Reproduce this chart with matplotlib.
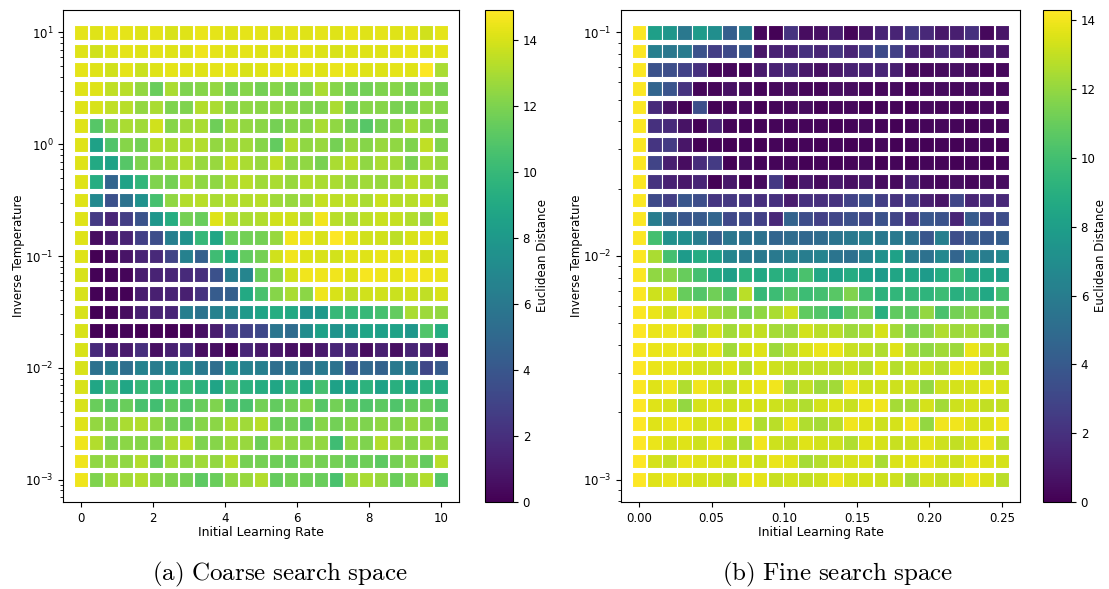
import numpy as np
import matplotlib
matplotlib.use("Agg")
import matplotlib.pyplot as plt

# Hyperparameter grids (25 x 25 each)
coarse_lr = np.linspace(0, 10, 25)
coarse_temp = np.logspace(-3, 1, 25)
fine_lr = np.linspace(0, 0.25, 25)
fine_temp = np.logspace(-3, -1, 25)

# Euclidean distance per grid cell; rows listed from highest inverse temperature down
coarse_dist = [
    [14.3,14.2,14.4,14.3,14.2,14.3,14.0,14.2,14.4,14.3,14.2,14.3,14.3,14.2,14.3,14.2,14.3,14.2,14.4,14.2,14.3,14.2,14.3,13.8,14.3],
    [14.2,13.8,14.1,14.3,14.2,14.3,14.2,14.1,14.5,14.3,14.2,14.3,14.2,14.3,14.2,14.3,14.1,14.0,14.2,14.2,14.2,14.3,14.4,14.2,14.3],
    [14.3,14.2,13.8,14.3,13.7,14.2,14.3,14.2,14.2,14.3,14.3,14.0,14.2,14.3,14.4,14.3,14.2,14.4,14.3,14.2,14.1,14.3,14.2,14.8,13.0],
    [14.2,14.2,13.5,13.3,12.5,11.5,13.0,12.0,12.2,12.5,11.8,12.2,11.8,12.2,11.8,12.0,13.0,12.2,11.8,11.7,12.0,12.2,11.8,12.3,11.9],
    [14.2,14.0,13.5,13.3,12.5,13.0,12.0,12.0,13.2,13.0,12.2,12.4,12.3,12.4,12.3,12.1,12.0,13.0,11.7,12.2,12.2,11.9,11.8,12.4,12.2],
    [14.2,11.0,12.3,13.0,12.8,13.8,12.2,12.8,13.0,11.6,12.8,12.5,12.3,11.8,12.2,12.2,13.0,12.4,11.8,11.0,11.8,12.2,13.0,12.2,11.9],
    [14.2,8.5,10.8,12.2,11.8,13.3,13.0,13.2,13.2,12.5,12.8,12.8,12.2,11.3,13.2,12.4,12.6,11.8,12.6,12.2,12.6,12.4,12.0,13.5,12.0],
    [14.2,9.0,8.6,11.0,12.0,12.4,12.8,13.2,12.6,12.6,13.5,13.0,12.6,13.5,12.4,12.4,11.9,13.0,13.3,12.4,13.0,12.8,11.9,13.0,12.6],
    [14.2,9.3,4.8,8.6,9.8,12.0,11.8,13.0,12.4,12.4,13.0,13.3,12.8,13.0,12.6,13.2,13.0,13.0,12.6,12.8,12.6,12.8,13.3,13.0,12.4],
    [14.2,7.0,3.7,5.6,7.6,10.5,12.4,13.2,13.3,13.0,13.2,13.2,13.3,12.8,12.6,12.8,13.6,13.4,13.4,13.0,13.7,13.3,13.3,13.7,13.0],
    [14.2,2.6,1.6,2.7,3.8,7.8,9.2,11.8,11.5,14.2,13.2,13.0,13.2,13.8,13.8,13.0,14.6,13.3,13.0,13.4,13.7,13.6,13.2,12.6,14.3],
    [14.2,0.5,1.0,1.4,2.8,3.5,6.4,7.6,10.0,8.8,11.5,11.7,11.8,12.6,14.6,14.5,14.0,14.9,14.3,13.8,13.8,13.4,14.0,14.3,14.2],
    [14.2,0.0,0.3,0.8,1.5,1.7,3.0,6.5,4.5,10.3,9.0,11.3,11.8,13.8,14.6,14.1,14.0,13.9,14.3,14.2,14.4,14.3,14.5,14.0,14.3],
    [14.0,0.1,0.2,0.2,1.2,1.4,1.6,1.8,2.0,3.7,6.2,6.8,11.5,12.3,13.9,14.6,14.5,14.6,14.1,14.7,14.5,14.3,14.7,14.6,14.4],
    [14.0,0.1,0.2,0.1,1.2,1.3,1.5,1.3,2.2,4.3,4.5,9.0,10.6,12.2,13.0,12.3,14.5,14.0,13.5,13.8,13.8,13.7,13.8,13.5,14.0],
    [14.0,0.1,0.2,0.5,1.3,1.4,1.6,6.3,5.7,6.5,6.8,8.0,8.7,9.2,9.0,7.7,8.0,10.0,10.0,10.0,10.5,11.3,13.0,12.7,12.5],
    [14.0,0.1,0.1,0.2,0.1,0.1,0.1,0.2,0.6,1.2,2.6,2.9,3.3,5.8,5.2,7.2,8.5,7.7,7.9,8.7,8.4,8.6,7.9,10.8,9.2],
    [14.0,1.8,1.2,1.0,2.0,0.6,1.3,1.8,0.5,0.6,0.1,1.6,1.0,0.9,0.6,0.5,1.0,1.6,1.6,0.5,1.3,0.6,1.5,1.3,0.6],
    [14.0,5.5,6.3,5.4,6.6,6.2,6.8,7.0,6.0,5.3,7.2,6.6,6.4,5.3,5.8,5.2,6.0,5.6,4.0,5.0,4.6,6.0,5.8,3.2,4.2],
    [14.0,8.8,10.3,8.8,10.0,10.0,9.7,10.2,9.5,8.7,10.3,9.5,9.3,8.8,10.0,8.8,10.5,8.5,8.5,9.6,8.6,9.4,8.6,9.6,9.2],
    [14.0,11.5,11.0,11.5,10.6,10.4,11.3,10.8,11.5,12.0,10.8,10.6,11.7,11.3,11.7,12.2,11.0,11.7,11.2,10.8,11.2,10.8,11.4,11.5,10.8],
    [14.2,12.5,12.2,13.0,13.2,12.4,11.8,11.5,12.2,12.3,13.0,12.8,13.3,11.5,11.8,11.0,12.2,11.7,12.2,12.0,12.4,12.0,12.6,12.2,11.7],
    [14.5,13.2,12.0,12.3,12.2,12.0,13.0,13.5,12.0,12.2,12.8,12.6,11.6,12.8,12.4,12.3,12.5,10.3,12.4,12.0,13.2,12.6,12.2,12.8,12.4],
    [14.5,12.4,12.6,12.4,13.2,11.5,12.8,12.3,12.8,12.5,13.3,11.8,11.8,11.6,11.5,12.0,11.8,11.7,11.5,11.6,11.2,11.8,12.3,11.4,13.3],
    [14.5,12.0,12.8,12.8,13.2,12.2,12.0,11.8,11.2,11.5,12.4,12.6,13.2,11.4,11.8,11.6,11.5,10.6,12.4,13.0,12.6,11.5,12.2,13.2,11.0],
]

fine_dist = [
    [14.2,8.0,7.5,5.7,7.8,7.0,4.2,6.0,0.3,0.1,2.1,0.5,0.6,1.1,0.2,0.8,1.5,1.4,2.4,1.6,0.9,1.2,2.0,0.3,0.8],
    [14.2,6.1,5.7,5.9,3.6,2.6,3.2,4.0,0.8,1.3,1.3,2.0,1.5,2.2,1.4,2.6,3.2,2.7,1.5,0.9,1.5,1.3,0.5,1.1,0.8],
    [14.2,3.6,3.4,2.8,2.0,0.2,0.3,0.2,1.0,1.3,1.6,0.9,0.6,0.9,1.3,1.3,1.5,1.2,0.4,0.3,0.4,0.6,0.4,0.2,0.3],
    [14.2,4.6,3.7,2.1,0.2,0.2,0.6,0.4,0.2,0.3,0.5,0.2,0.2,0.5,0.5,0.3,0.3,0.4,0.2,0.3,0.4,0.3,0.4,0.3,0.3],
    [14.2,1.7,0.7,0.0,3.4,0.1,0.2,0.3,0.1,0.2,0.3,0.4,0.1,0.2,0.3,0.1,0.2,0.2,0.1,0.3,0.2,0.2,0.1,0.3,0.2],
    [14.2,2.0,1.7,0.7,0.1,1.3,0.2,0.2,0.2,0.2,0.2,0.2,0.2,0.1,0.2,0.3,0.2,0.1,0.2,0.2,0.3,0.2,0.1,0.2,0.2],
    [14.2,2.2,2.5,0.8,0.1,0.2,0.1,0.2,0.1,0.2,0.1,0.2,0.1,0.2,0.1,0.2,0.3,0.1,0.2,0.1,0.2,0.1,0.2,0.2,0.1],
    [14.2,2.9,1.2,0.5,1.8,2.5,0.1,0.4,0.2,0.2,0.3,0.1,0.2,0.1,0.2,0.3,0.1,0.2,0.1,0.2,0.2,0.1,0.2,0.1,0.2],
    [14.2,2.1,1.3,0.9,1.4,0.1,0.9,0.2,0.4,2.4,0.3,0.9,0.4,0.9,0.6,0.9,0.5,0.4,1.2,0.4,0.3,0.5,0.3,0.5,0.5],
    [14.2,3.2,2.6,3.8,3.3,2.2,2.3,2.2,1.9,2.0,1.1,2.0,1.9,2.1,2.8,3.3,2.6,2.1,2.6,1.2,0.8,3.0,1.4,1.8,1.6],
    [14.2,6.0,4.5,3.8,4.0,4.6,3.1,3.2,2.7,1.6,4.5,3.3,2.7,3.0,3.5,3.0,3.6,2.9,2.3,3.8,3.6,1.5,4.0,2.8,3.3],
    [14.2,10.0,7.2,7.0,6.0,4.3,5.6,5.2,5.3,4.6,5.0,4.7,5.0,5.5,5.8,6.0,5.7,5.8,5.3,3.8,6.1,3.4,4.0,3.9,4.2],
    [14.2,12.5,10.0,7.8,8.8,8.0,6.5,5.9,5.8,5.8,6.2,6.0,6.4,5.5,5.2,6.3,7.2,8.2,6.0,5.3,6.7,4.6,6.4,6.0,6.7],
    [14.2,11.9,11.8,11.0,10.0,8.7,8.0,9.2,8.6,9.0,9.0,10.2,8.5,8.2,8.8,8.2,7.8,8.4,8.5,7.8,8.8,9.8,8.5,8.4,8.0],
    [14.2,13.2,13.3,11.0,10.5,11.2,10.4,12.8,9.6,9.8,10.6,9.8,10.0,10.6,11.6,10.0,9.2,9.4,9.6,9.3,9.8,9.0,9.5,8.6,10.0],
    [14.2,13.8,13.2,14.0,13.4,12.4,12.0,11.3,11.9,12.5,13.2,10.8,10.5,9.6,11.0,11.3,9.0,10.8,10.7,12.0,10.2,11.3,11.6,11.5,11.2],
    [14.3,13.8,13.9,13.8,12.3,13.5,12.3,13.0,13.0,12.4,12.2,13.3,12.8,12.8,12.2,12.5,13.4,12.3,11.5,11.8,12.6,12.2,12.4,11.7,11.4],
    [14.2,13.8,13.8,13.9,13.2,13.8,12.3,13.4,13.6,12.2,12.8,13.5,13.8,13.8,13.1,13.0,12.6,13.6,12.4,11.9,12.3,12.2,13.8,12.8,12.7],
    [14.3,13.8,13.8,13.6,13.4,13.2,13.6,12.6,13.6,13.2,13.0,12.9,13.0,12.8,13.1,12.6,13.6,12.7,13.1,13.2,12.6,13.8,13.8,12.5,12.7],
    [14.2,13.6,14.0,12.6,14.0,13.4,12.8,13.6,13.8,14.0,12.4,13.0,12.2,12.3,14.0,13.2,13.3,13.2,13.2,12.0,13.2,13.4,13.3,13.9,13.3],
    [14.3,13.6,13.4,12.0,13.4,13.6,13.2,13.4,13.4,13.2,13.0,12.6,13.3,13.5,13.1,13.8,14.0,12.4,12.4,13.4,12.3,13.2,13.4,13.0,13.0],
    [14.3,13.6,13.8,13.9,13.3,13.6,13.4,14.0,12.6,12.8,13.8,12.6,12.4,12.8,14.0,13.6,13.2,13.4,14.0,12.0,14.0,14.0,13.5,13.5,14.0],
    [14.3,13.8,13.4,13.6,13.2,13.8,13.0,12.4,14.0,13.2,13.0,13.6,13.3,13.2,12.6,13.6,13.4,13.1,13.2,13.7,13.2,13.0,13.4,14.0,12.8],
    [14.3,13.4,13.0,13.8,13.6,13.6,13.4,13.6,13.2,13.8,13.6,12.4,12.7,13.2,13.4,13.5,12.5,13.5,13.6,13.8,13.3,13.2,13.8,13.6,13.4],
    [14.3,13.6,13.8,13.6,13.4,13.4,12.9,13.8,13.7,13.1,13.3,13.0,13.2,14.0,13.4,13.4,13.2,13.2,12.3,13.4,13.0,13.3,14.0,13.5,12.8],
]

captions = ["(a) Coarse search space", "(b) Fine search space"]

W, H = 1109, 589
fig = plt.figure(figsize=(W / 100, H / 100), dpi=100)


def px_box(x0, y0, x1, y1):
    return [x0 / W, 1 - y1 / H, (x1 - x0) / W, (y1 - y0) / H]


panels = [
    dict(lr=coarse_lr, temp=coarse_temp, dist=coarse_dist,
         ax=px_box(63, 10, 459, 502), cax=px_box(485, 10, 513, 502), cap_x=280),
    dict(lr=fine_lr, temp=fine_temp, dist=fine_dist,
         ax=px_box(621, 10, 1020, 502), cax=px_box(1043, 10, 1071, 502), cap_x=838),
]

for p, cap in zip(panels, captions):
    ax = fig.add_axes(p["ax"])
    cax = fig.add_axes(p["cax"])
    lr_grid, temp_grid = np.meshgrid(p["lr"], p["temp"][::-1])
    dist = np.asarray(p["dist"])
    sc = ax.scatter(lr_grid.ravel(), temp_grid.ravel(), c=dist.ravel(),
                    cmap="viridis", marker="s", s=112,
                    edgecolors="white", linewidths=0.8)
    ax.set_yscale("log")
    ax.set_xlabel("Initial Learning Rate", fontsize=9, labelpad=1)
    ax.set_ylabel("Inverse Temperature", fontsize=8.5, labelpad=0)
    ax.tick_params(labelsize=8.5)
    cb = fig.colorbar(sc, cax=cax)
    cb.set_label("Euclidean Distance", fontsize=8.5, labelpad=-1)
    cb.ax.tick_params(labelsize=8.5)
    cb.set_ticks(np.arange(0, 15, 2))
    fig.text(p["cap_x"] / W, 1 - 574 / H, r"$\mathrm{" + cap.replace(" ", r"\ ") + "}$",
             ha="center", va="center", fontsize=18, math_fontfamily="cm")

fig.savefig("out.png", dpi=100)
